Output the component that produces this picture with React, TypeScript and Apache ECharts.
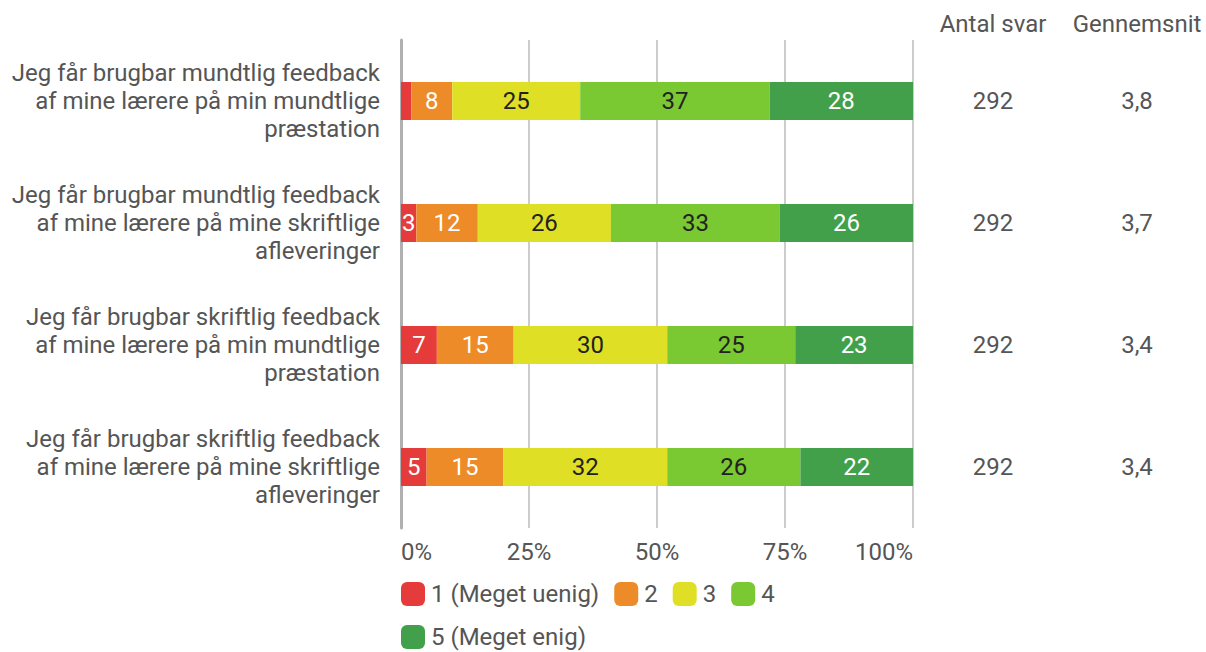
import React, { useEffect, useRef } from "react";
import * as echarts from "echarts";

const categories = [
  "Jeg får brugbar mundtlig feedback\naf mine lærere på min mundtlige\npræstation",
  "Jeg får brugbar mundtlig feedback\naf mine lærere på mine skriftlige\nafleveringer",
  "Jeg får brugbar skriftlig feedback\naf mine lærere på min mundtlige\npræstation",
  "Jeg får brugbar skriftlig feedback\naf mine lærere på mine skriftlige\nafleveringer",
];
const seriesNames = ["1 (Meget uenig)", "2", "3", "4", "5 (Meget enig)"];
const v1 = [2, 3, 7, 5];
const v2 = [8, 12, 15, 15];
const v3 = [25, 26, 30, 32];
const v4 = [37, 33, 25, 26];
const v5 = [28, 26, 23, 22];
const antalSvar = [292, 292, 292, 292];
const gennemsnit = [3.8, 3.7, 3.4, 3.4];
const xTicks = [0, 25, 50, 75, 100];

const colors = ["#e63b3b", "#ec8b28", "#dfe025", "#7ac832", "#43a04a"];
const labelColors = ["#ffffff", "#ffffff", "#222222", "#222222", "#ffffff"];

export default function App() {
  const ref = useRef<HTMLDivElement>(null);
  useEffect(() => {
    if (!ref.current) return;
    const chart = echarts.init(ref.current, null, { renderer: "svg" });
    const values = [v1, v2, v3, v4, v5];
    const font = "Roboto";
    const fs = 24;
    chart.setOption({
      animation: false,
      textStyle: { fontFamily: font },
      grid: { left: 401, right: 293, top: 40, bottom: 124, containLabel: false },
      legend: {
        left: 401,
        top: 580,
        width: 420,
        itemWidth: 24,
        itemHeight: 24,
        itemGap: 15,
        icon: "roundRect",
        padding: 0,
        textStyle: { fontSize: fs, lineHeight: 28, color: "#555555", fontFamily: font, padding: [0, 0, 0, 1] },
        data: seriesNames,
      },
      xAxis: {
        type: "value",
        min: xTicks[0],
        max: xTicks[xTicks.length - 1],
        interval: 25,
        axisLine: { show: false },
        axisTick: { show: false },
        splitLine: { show: true, lineStyle: { color: "#cccccc", width: 2 } },
        axisLabel: {
          formatter: "{value}%",
          fontSize: fs,
          color: "#555555",
          margin: 12,
          fontFamily: font,
          alignMinLabel: "left",
          alignMaxLabel: "right",
        },
      },
      yAxis: [
        {
          type: "category",
          data: categories,
          inverse: true,
          axisLine: { show: true, lineStyle: { color: "#b0b0b0", width: 3 } },
          axisTick: { show: false },
          axisLabel: {
            fontSize: fs,
            color: "#555555",
            lineHeight: 28,
            align: "right",
            margin: 21,
            fontFamily: font,
          },
        },
        {
          type: "category",
          data: antalSvar.map(String),
          inverse: true,
          position: "right",
          offset: 80,
          name: "Antal svar",
          nameLocation: "start",
          nameGap: 4,
          nameTextStyle: { fontSize: fs, color: "#555555", align: "center", verticalAlign: "bottom", fontFamily: font },
          axisLine: { show: false },
          axisTick: { show: false },
          axisLabel: { fontSize: fs, color: "#555555", align: "center", margin: 0, fontFamily: font },
        },
        {
          type: "category",
          data: gennemsnit.map((g) => g.toFixed(1).replace(".", ",")),
          inverse: true,
          position: "right",
          offset: 224,
          name: "Gennemsnit",
          nameLocation: "start",
          nameGap: 4,
          nameTextStyle: { fontSize: fs, color: "#555555", align: "center", verticalAlign: "bottom", fontFamily: font },
          axisLine: { show: false },
          axisTick: { show: false },
          axisLabel: { fontSize: fs, color: "#555555", align: "center", margin: 0, fontFamily: font },
        },
      ],
      series: seriesNames.map((name, i) => ({
        name,
        type: "bar",
        stack: "total",
        yAxisIndex: 0,
        barWidth: 38,
        data: values[i],
        itemStyle: { color: colors[i] },
        label: {
          show: true,
          position: "inside",
          fontSize: fs,
          color: labelColors[i],
          fontFamily: font,
          formatter: (p: any) => (p.value < 3 ? "" : String(p.value)),
        },
      })),
    });
    return () => chart.dispose();
  }, []);
  return (
    <div
      ref={ref}
      style={{ position: "fixed", left: 0, top: 0, width: 1206, height: 652, background: "#ffffff" }}
    />
  );
}
